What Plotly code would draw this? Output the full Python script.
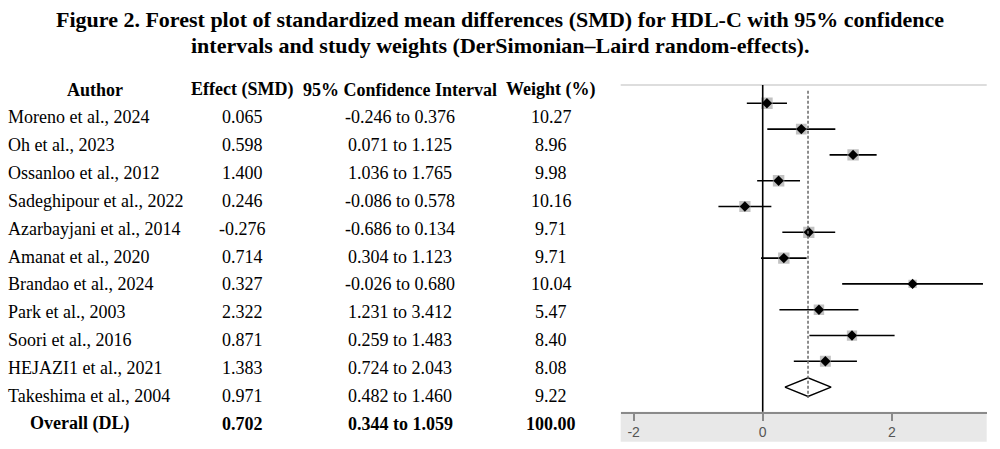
import plotly.graph_objects as go

# --- data ---
authors = [
    "Moreno et al., 2024", "Oh et al., 2023", "Ossanloo et al., 2012",
    "Sadeghipour et al., 2022", "Azarbayjani et al., 2014", "Amanat et al., 2020",
    "Brandao et al., 2024", "Park et al., 2003", "Soori et al., 2016",
    "HEJAZI1 et al., 2021", "Takeshima et al., 2004",
]
smd = [0.065, 0.598, 1.400, 0.246, -0.276, 0.714, 0.327, 2.322, 0.871, 1.383, 0.971]
ci_low = [-0.246, 0.071, 1.036, -0.086, -0.686, 0.304, -0.026, 1.231, 0.259, 0.724, 0.482]
ci_high = [0.376, 1.125, 1.765, 0.578, 0.134, 1.123, 0.680, 3.412, 1.483, 2.043, 1.460]
weights = [10.27, 8.96, 9.98, 10.16, 9.71, 9.71, 10.04, 5.47, 8.40, 8.08, 9.22]

overall_label = "Overall (DL)"
overall_smd = 0.702
overall_low = 0.344
overall_high = 1.059
overall_weight = 100.00

headers = ["Author", "Effect (SMD)", "95% Confidence Interval", "Weight (%)"]
x_ticks = [-2, 0, 2]
x_ticktext = ["-2", "0", "2"]

title_lines = [
    "Figure 2. Forest plot of standardized mean differences (SMD) for HDL-C with 95% confidence",
    "intervals and study weights (DerSimonian–Laird random-effects).",
]

W, H = 1000, 449
SERIF = "Liberation Serif, Times New Roman, serif"


def py(px):
    # pixel row -> paper y
    return 1 - px / H


rows = list(range(1, len(authors) + 1))
overall_row = len(authors) + 1

fig = go.Figure()

# CI whiskers
xs, ys = [], []
for r, lo, hi in zip(rows, ci_low, ci_high):
    xs += [lo, hi, None]
    ys += [r, r, None]
fig.add_trace(go.Scatter(x=xs, y=ys, mode="lines",
                         line=dict(color="black", width=1.6), hoverinfo="skip"))

# weight boxes
fig.add_trace(go.Scatter(
    x=smd, y=rows, mode="markers",
    marker=dict(symbol="square", color="#a8a8a8",
                size=[3.6 * w ** 0.5 for w in weights], line=dict(width=0)),
    hoverinfo="skip"))

# point estimates
fig.add_trace(go.Scatter(
    x=smd, y=rows, mode="markers",
    marker=dict(symbol="diamond", color="black", size=8),
    hoverinfo="skip"))

# pooled diamond
h = 0.36
fig.add_trace(go.Scatter(
    x=[overall_low, overall_smd, overall_high, overall_smd, overall_low],
    y=[overall_row, overall_row - h, overall_row, overall_row + h, overall_row],
    mode="lines", fill="toself", fillcolor="white",
    line=dict(color="black", width=1.5), hoverinfo="skip"))

x0p, x1p = 620.7 / W, 986.7 / W
axis_px, top_px = 411.7, 85

shapes = [
    # grey band under the axis
    dict(type="rect", xref="paper", yref="paper", x0=x0p, x1=x1p,
         y0=py(441.7), y1=py(axis_px), fillcolor="#e8e8e8", line=dict(width=0), layer="below"),
    # top border
    dict(type="line", xref="paper", yref="paper", x0=x0p, x1=x1p,
         y0=py(top_px), y1=py(top_px), line=dict(color="#d2d2d2", width=1.5)),
    # no-effect line
    dict(type="line", xref="x", yref="y domain", x0=0, x1=0, y0=0, y1=1,
         line=dict(color="black", width=1.6)),
    # pooled estimate dashed line
    dict(type="line", xref="x", yref="y", x0=overall_smd, x1=overall_smd, y0=0.51, y1=12.42,
         line=dict(color="#707070", width=1.6, dash="3px,2px")),
]

ann = []

# title, two centred lines
for ty, line in zip([20, 46], title_lines):
    ann.append(dict(x=0.5, y=py(ty), text="<b>%s</b>" % line, xanchor="center", size=22))

# table
col_x = [95, 242, 400, 551]
hdr_y = 89.5
for cx, hd in zip(col_x, headers):
    ann.append(dict(x=cx / W, y=py(hdr_y), text="<b>%s</b>" % hd, xanchor="center"))

row_y0, row_dy = 117, 27.9
for k, a in enumerate(authors):
    yy = py(row_y0 + k * row_dy)
    ann.append(dict(x=6 / W, y=yy, text=a, xanchor="left"))
    ann.append(dict(x=col_x[1] / W, y=yy, text="%.3f" % smd[k], xanchor="center"))
    ann.append(dict(x=col_x[2] / W, y=yy, text="%.3f to %.3f" % (ci_low[k], ci_high[k]),
                    xanchor="center"))
    ann.append(dict(x=col_x[3] / W, y=yy, text="%.2f" % weights[k], xanchor="center"))

yy = py(row_y0 + len(authors) * row_dy)
ann.append(dict(x=79 / W, y=yy, text="<b>%s</b>" % overall_label, xanchor="center"))
ann.append(dict(x=col_x[1] / W, y=yy, text="<b>%.3f</b>" % overall_smd, xanchor="center"))
ann.append(dict(x=col_x[2] / W, y=yy, text="<b>%.3f to %.3f</b>" % (overall_low, overall_high),
                xanchor="center"))
ann.append(dict(x=col_x[3] / W, y=yy, text="<b>%.2f</b>" % overall_weight, xanchor="center"))

for a in ann:
    fs = a.pop("size", 18)
    a.update(xref="paper", yref="paper", yanchor="middle", showarrow=False,
             font=dict(family=SERIF, size=fs, color="black"))

fig.update_layout(
    width=W, height=H,
    margin=dict(l=0, r=0, t=0, b=0),
    paper_bgcolor="white", plot_bgcolor="white",
    showlegend=False,
    xaxis=dict(domain=[x0p, x1p], range=[-2.2, 3.47],
               tickvals=x_ticks, ticktext=x_ticktext,
               showgrid=False, zeroline=False,
               showline=True, linecolor="#8a8a8a", linewidth=1.6,
               ticks="outside", ticklen=7, tickwidth=2, tickcolor="#8a8a8a",
               tickfont=dict(family="Liberation Sans, Arial", size=14, color="#555555")),
    yaxis=dict(domain=[py(axis_px), py(top_px)], range=[12.953, 0.291], visible=False),
    shapes=shapes,
    annotations=ann,
)

# drop the default 8px page margin so the figure sits at the window corner
fig.write_html("out.html", config={"displayModeBar": False},
               post_script="document.body.style.margin='0';document.body.style.overflow='hidden';")
